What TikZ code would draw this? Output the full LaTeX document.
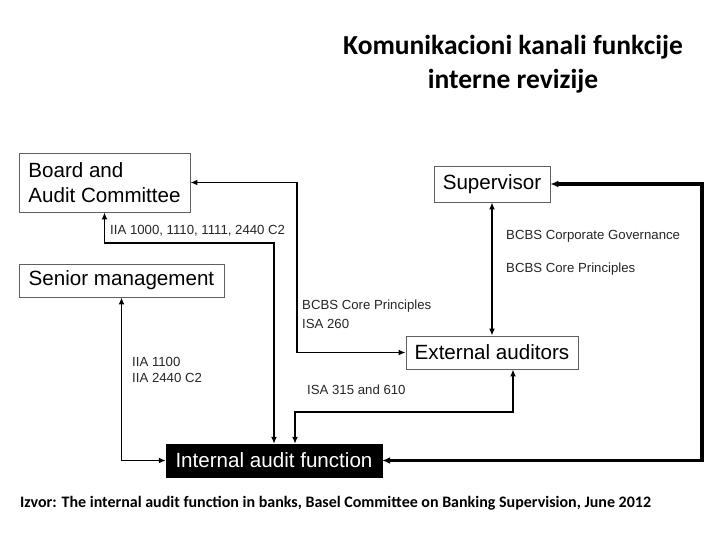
\documentclass[tikz,border=0pt]{standalone}
\usepackage{fontspec}
\newfontfamily\arialf{Liberation Sans}
\newfontfamily\calib{Carlito}
\usetikzlibrary{arrows.meta,calc}
\tikzset{
  box/.style={draw=gray!75!black, line width=0.9pt, inner sep=0pt, align=left,
    font=\arialf\fontsize{20.6}{25}\selectfont},
  darkbox/.style={fill=black, draw=black, text=white, inner sep=0pt,
    font=\arialf\fontsize{20.6}{25}\selectfont},
  lbl/.style={anchor=base west, inner sep=0pt, text=black!85, font=\arialf\fontsize{13.2}{16}\selectfont},
  conn/.style={line width=1.9pt, {Latex[length=7pt,width=6pt]}-{Latex[length=7pt,width=6pt]}},
  thickconn/.style={line width=3.2pt, {Latex[length=8pt,width=7pt]}-{Latex[length=8pt,width=7pt]}},
  ttl/.style={inner sep=0pt, align=center, font=\calib\bfseries\fontsize{27.5}{34}\selectfont},
  foot/.style={anchor=base west, inner sep=0pt, font=\calib\bfseries\fontsize{16}{19}\selectfont}
}
\begin{document}
\begin{tikzpicture}[x=1pt,y=-1pt]
\useasboundingbox (0,0) rectangle (720,540);
% title
\node[ttl] (title) at (513,64) {Komunikacioni kanali funkcije\\interne revizije};
% boxes
\node[box, minimum width=171pt, minimum height=59pt] (board) at (104.5,182.5) {Board and\\Audit Committee};
\node[box, minimum width=116pt, minimum height=36pt] (sup) at (492,184) {Supervisor};
\node[box, minimum width=205pt, minimum height=33pt] (senior) at (121.5,280.5) {Senior management};
\node[box, minimum width=172pt, minimum height=33pt] (ext) at (492,352.5) {External auditors};
\node[darkbox, minimum width=216pt, minimum height=33pt] (iaf) at (274,460.5) {Internal audit function};
% helper coordinates
\coordinate (ax) at (297,0);
\coordinate (b1) at (274,243);
\coordinate (rx) at (702,0);
\coordinate (f2) at ($(iaf.north)+(21,0)$);
\coordinate (f1) at (513,412);
% connectors
\draw[conn] (board.east) -- (board.east -| ax) |- (ext.west);
\draw[conn] (board.south) |- (b1) -- (iaf.north);
\draw[conn] (senior.south) |- (iaf.west);
\draw[conn] (sup.south) -- (ext.north);
\draw[thickconn] (sup.east) -- (sup.east -| rx) |- (iaf.east);
\draw[conn] (f2) |- (f1) -- (f1 |- ext.south);
% labels
\node[lbl] (l1) at (110,235) {IIA 1000, 1110, 1111, 2440 C2};
\node[lbl] (l2) at (506,240) {BCBS Corporate Governance};
\node[lbl] (l3) at (506,272) {BCBS Core Principles};
\node[lbl] (l4) at (302,309) {BCBS Core Principles};
\node[lbl] (l5) at (302,328) {ISA 260};
\node[lbl] (l6) at (132,366) {IIA 1100};
\node[lbl] (l7) at (132,382) {IIA 2440 C2};
\node[lbl] (l8) at (307,394) {ISA 315 and 610};
% footer
\node[foot] (src) at (20,507) {Izvor: The internal audit function in banks, Basel Committee on Banking Supervision, June 2012};
\end{tikzpicture}
\end{document}
